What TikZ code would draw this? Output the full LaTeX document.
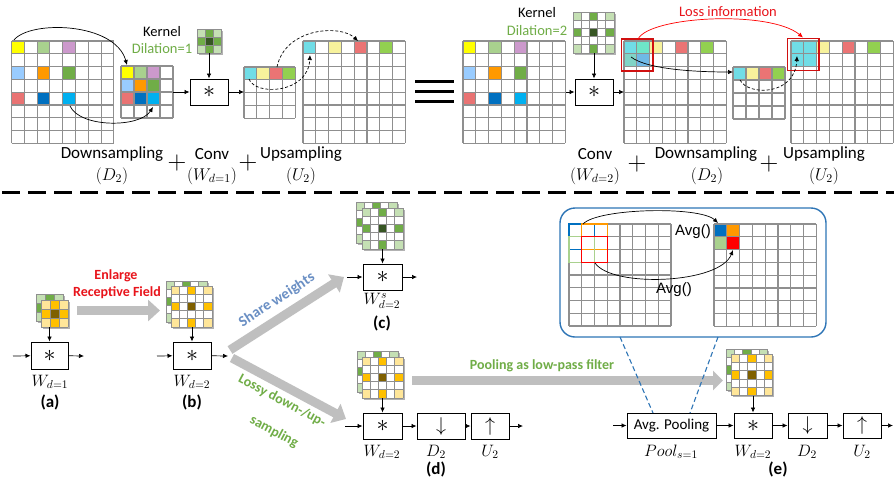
\RequirePackage{fix-cm}
\documentclass[tikz,border=0pt]{standalone}
\usepackage{fontspec}
\setmainfont{Carlito}
\newfontfamily\arialf{Liberation Sans}
\usetikzlibrary{arrows.meta}
\definecolor{cyel}{HTML}{FFFF00}
\definecolor{clg}{HTML}{A9D18E}
\definecolor{clil}{HTML}{CC99CC}
\definecolor{clb}{HTML}{99CCFF}
\definecolor{cor}{HTML}{FF9900}
\definecolor{cgr}{HTML}{70AD47}
\definecolor{csal}{HTML}{E97373}
\definecolor{cdb}{HTML}{0070C0}
\definecolor{csky}{HTML}{00B0F0}
\definecolor{ccy}{HTML}{70DDE6}
\definecolor{cly}{HTML}{F7F29C}
\definecolor{csal2}{HTML}{EB7474}
\definecolor{cgr2}{HTML}{92D050}
\definecolor{cmint}{HTML}{6EE6C8}
\definecolor{cteal}{HTML}{80D4C6}
\definecolor{cblu2}{HTML}{6FB9E6}
\definecolor{kgL}{HTML}{C5E0B4}
\definecolor{kgM}{HTML}{70AD47}
\definecolor{kgD}{HTML}{375623}
\definecolor{kyL}{HTML}{FFE699}
\definecolor{kyM}{HTML}{FFC000}
\definecolor{kyD}{HTML}{7F6000}
\definecolor{agray}{HTML}{BFBFBF}
\definecolor{bbox}{HTML}{2E75B6}
\definecolor{tgreen}{HTML}{70AD47}
\definecolor{tblue}{HTML}{6A8FC4}
\definecolor{tred}{HTML}{E8141B}
\definecolor{gline}{HTML}{8F8F8F}
\definecolor{rred}{HTML}{FF0000}
\definecolor{dred}{HTML}{D01010}
\tikzset{
 gl/.style={draw=gline, line width=1.1pt},
 kl/.style={draw=gline, line width=0.7pt},
 con/.style={-{Latex[length=5pt,width=4.5pt]}, line width=0.7pt},
 dcon/.style={-{Latex[length=5pt,width=4.5pt]}, line width=0.7pt, dash pattern=on 3pt off 2pt},
 opbox/.style={draw, line width=1pt, minimum height=26pt, inner sep=0pt, fill=white},
 fat/.style={draw=agray, line width=9pt, -{Triangle[length=12pt,width=21pt]}},
 big/.style={font=\fontsize{17}{20}\selectfont, inner sep=0pt},
 mlab/.style={font=\fontsize{17}{20}\selectfont, inner sep=0pt},
 blab/.style={font=\fontsize{16.5}{19}\selectfont, inner sep=0pt},
 plus/.style={font=\fontsize{26}{26}\selectfont, inner sep=0pt},
 sml/.style={font=\fontsize{14.5}{17}\selectfont, inner sep=0pt},
 sub/.style={font=\fontsize{17}{20}\selectfont\bfseries, inner sep=0pt},
 avg/.style={font=\arialf\fontsize{15}{18}\selectfont, inner sep=0pt},
}
\newcommand\bigast{\fontsize{24}{24}\selectfont$\ast$}
\newcommand\bigdown{\fontsize{20}{20}\selectfont$\downarrow$}
\newcommand\bigup{\fontsize{20}{20}\selectfont$\uparrow$}
\newcommand\mygrid[5]{%
 \foreach \ri/\ci/\col in {#5} {\fill[\col] ({#1+\ci*#4},{#2+\ri*#4}) rectangle ++(#4,#4);}
 \foreach \i in {0,...,#3} {%
   \draw[gl] ({#1+\i*#4},{#2}) -- ({#1+\i*#4},{#2+#3*#4});
   \draw[gl] ({#1},{#2+\i*#4}) -- ({#1+#3*#4},{#2+\i*#4});}
}
\newcommand\kthree[6]{%
 \fill[black!30] ({#1+1.8},{#2+1.8}) rectangle ++({3*#3},{3*#3});
 \foreach \ri/\ci/\col in {0/0/#4,0/1/#5,0/2/#4,1/0/#5,1/1/#6,1/2/#5,2/0/#4,2/1/#5,2/2/#4}
   {\fill[\col] ({#1+\ci*#3},{#2+\ri*#3}) rectangle ++(#3,#3);}
 \foreach \i in {0,...,3} {%
   \draw[kl] ({#1+\i*#3},{#2}) -- ++(0,{3*#3});
   \draw[kl] ({#1},{#2+\i*#3}) -- ++({3*#3},0);}
}
\newcommand\kfive[6]{%
 \fill[black!30] ({#1+1.8},{#2+1.8}) rectangle ++({5*#3},{5*#3});
 \fill[white] ({#1},{#2}) rectangle ++({5*#3},{5*#3});
 \foreach \ri/\ci/\col in {0/0/#4,0/2/#5,0/4/#4,2/0/#5,2/2/#6,2/4/#5,4/0/#4,4/2/#5,4/4/#4}
   {\fill[\col] ({#1+\ci*#3},{#2+\ri*#3}) rectangle ++(#3,#3);}
 \foreach \i in {0,...,5} {%
   \draw[kl] ({#1+\i*#3},{#2}) -- ++(0,{5*#3});
   \draw[kl] ({#1},{#2+\i*#3}) -- ++({5*#3},0);}
}
\begin{document}
\begin{tikzpicture}[x=1pt,y=-1pt]
\useasboundingbox[fill=white] (0,0) rectangle (894,483);

% ================= top left =================
\mygrid{11.5}{41}{8}{12.8}{0/0/cyel,0/2/clg,0/4/clil,2/0/clb,2/2/cor,2/4/cgr,4/0/csal,4/2/cdb,4/4/csky}
\mygrid{121}{66}{4}{13}{0/0/cyel,0/1/clg,0/2/clil,1/0/clb,1/1/cor,1/2/cgr,2/0/csal,2/1/cdb,2/2/csky}
\kthree{197}{29}{8}{kgL}{kgM}{kgD}
\mygrid{244}{67}{4}{12.8}{0/0/ccy,0/1/cly,0/2/csal2,0/3/cgr2}
\mygrid{303}{41}{8}{12.8}{0/0/ccy,0/2/cly,0/4/csal2,0/6/cgr2}

\node[sml] (kt1) at (162,32) {Kernel};
\node[sml,text=tgreen] (dl1) at (162,49) {Dilation=1};
\node[opbox,minimum width=38pt] (cv1) at (209,92) {\bigast};

\coordinate (p1a) at (14,40);
\coordinate (p1b) at (127,65);
\draw[con] (p1a) .. controls (30,20) and (115,22) .. (p1b);
\coordinate (p2a) at (70,106);
\coordinate (p2b) at (153,107);
\draw[con] (p2a) .. controls (80,128) and (140,128) .. (p2b);
\coordinate (k1b) at (209,53);
\draw[con] (k1b) -- (cv1);
\coordinate (g2r) at (173,92);
\draw[con] (g2r) -- (cv1);
\coordinate (g3l) at (244,92);
\draw[con] (cv1) -- (g3l);
\coordinate (p3a) at (277,67);
\coordinate (p3b) at (358,41);
\draw[dcon] (p3a) .. controls (285,28) and (340,24) .. (p3b);
\coordinate (p4a) at (249,79);
\coordinate (p4b) at (310,55);
\draw[dcon] (p4a) .. controls (255,96) and (308,94) .. (p4b);

\draw[line width=3pt] (415,81) -- (454,81);
\draw[line width=3pt] (415,91) -- (454,91);
\draw[line width=3pt] (415,101.5) -- (454,101.5);

\node[big] (tl1) at (112,154) {Downsampling};
\node[mlab] (tl2) at (112,176) {$(D_2)$};
\node[plus] (pl1) at (177,163) {$+$};
\node[big] (tl3) at (212,154) {Conv};
\node[mlab] (tl4) at (212,176) {$(W_{d=1})$};
\node[plus] (pl2) at (248,163) {$+$};
\node[big] (tl5) at (301,154) {Upsampling};
\node[mlab] (tl6) at (301,176) {$(U_2)$};

% ================= top right =================
\mygrid{463}{41}{8}{12.8}{0/0/cyel,0/2/clg,0/4/clil,2/0/clb,2/2/cor,2/4/cgr,4/0/csal,4/2/cdb,4/4/csky}
\kfive{573}{12}{8.2}{kgL}{kgM}{kgD}
\mygrid{624}{41}{8}{12.8}{0/0/ccy,0/1/cmint,1/0/cteal,1/1/cblu2,0/2/cly,0/4/csal2,0/6/cgr2}
\mygrid{733}{67}{4}{13}{0/0/ccy,0/1/cly,0/2/csal2,0/3/cgr2}
\mygrid{791}{41}{8}{12.8}{0/0/ccy,0/1/ccy,1/0/ccy,1/1/ccy,0/2/cly,0/4/csal2,0/6/cgr2}
\draw[draw=dred, line width=1.5pt] (621.5,39) rectangle (653,71);
\draw[draw=dred, line width=1.5pt] (787.5,38.5) rectangle (819,70.5);

\node[sml] (kt2) at (537,13) {Kernel};
\node[sml,text=tgreen] (dl2) at (537,31) {Dilation=2};
\node[sml,text=tred] (loss) at (728,12) {Loss information};
\node[opbox,minimum width=38pt] (cv2) at (594,92) {\bigast};

\coordinate (k2b) at (594,53);
\draw[con] (k2b) -- (cv2);
\coordinate (gAr) at (566,92);
\draw[con] (gAr) -- (cv2);
\coordinate (gBl) at (624,92);
\draw[con] (cv2) -- (gBl);
\coordinate (r1a) at (638,39);
\coordinate (r1b) at (803,37.5);
\draw[con,draw=rred] (r1a) .. controls (650,16) and (770,10) .. (r1b);
\coordinate (q1a) at (631,57);
\coordinate (q1b) at (733,72);
\draw[con] (q1a) .. controls (648,70) and (700,72) .. (q1b);
\coordinate (q2a) at (740,80);
\coordinate (q2b) at (797,56);
\draw[dcon] (q2a) .. controls (748,96) and (795,96) .. (q2b);

\node[big] (tr1) at (595,154) {Conv};
\node[mlab] (tr2) at (595,176) {$(W_{d=2})$};
\node[plus] (pl3) at (637,164) {$+$};
\node[big] (tr3) at (706,154) {Downsampling};
\node[mlab] (tr4) at (707,176) {$(D_2)$};
\node[plus] (pl4) at (769,164) {$+$};
\node[big] (tr5) at (824,154) {Upsampling};
\node[mlab] (tr6) at (824,176) {$(U_2)$};

% separator
\draw[line width=3pt, dash pattern=on 18pt off 8pt] (2,192) -- (894,192);

% ================= (a) =================
\kthree{36}{294}{9}{kgL}{kgM}{kgD}
\kthree{41}{300}{9}{kyL}{kyM}{kyD}
\node[opbox,minimum width=37pt,minimum height=27pt] (ba) at (49.5,355.5) {\bigast};
\coordinate (akb) at (49.5,327);
\draw[con] (akb) -- (ba);
\coordinate (ain) at (13,356);
\draw[con] (ain) -- (ba);
\coordinate (aout) at (84,356);
\draw[con] (ba) -- (aout);
\node[blab] (wa) at (50,382) {$W_{d=1}$};
\node[sub] (la) at (50,402) {(a)};

\coordinate (f1s) at (77,310.5);
\coordinate (f1e) at (160,310.5);
\draw[fat] (f1s) -- (f1e);
\node[font=\fontsize{14}{16}\selectfont\bfseries, text=tred, inner sep=0pt] (en1) at (116,276) {Enlarge};
\node[font=\fontsize{14}{16}\selectfont\bfseries, text=tred, inner sep=0pt] (en2) at (117,293) {Receptive Field};

% ================= (b) =================
\kfive{166}{281}{8.2}{kgL}{kgM}{kgD}
\kfive{171}{286}{8.2}{kyL}{kyM}{kyD}
\node[opbox,minimum width=38pt,minimum height=27pt] (bb) at (192,355.5) {\bigast};
\coordinate (bkb) at (192,327);
\draw[con] (bkb) -- (bb);
\coordinate (bin) at (157,356);
\draw[con] (bin) -- (bb);
\coordinate (bout) at (228,356);
\draw[con] (bb) -- (bout);
\node[blab] (wb) at (192,382) {$W_{d=2}$};
\node[sub] (lb) at (192,402) {(b)};

\coordinate (f2s) at (230,350);
\coordinate (f2e) at (344,277);
\draw[fat] (f2s) -- (f2e);
\coordinate (f3s) at (232,358);
\coordinate (f3e) at (346,419);
\draw[fat] (f3s) -- (f3e);
\node[font=\fontsize{15}{17}\selectfont\bfseries, text=tblue, inner sep=0pt, rotate=33] (sw) at (277,300) {Share weights};
\node[font=\fontsize{14}{16}\selectfont\bfseries, text=tgreen, inner sep=0pt, rotate=-28] (ls1) at (282,401) {Lossy down-/up-};
\node[font=\fontsize{14}{16}\selectfont\bfseries, text=tgreen, inner sep=0pt, rotate=-28] (ls2) at (274,432) {sampling};

% ================= (c) =================
\kfive{356}{202}{8.2}{kgL}{kgM}{kgD}
\kfive{362}{208}{8.2}{kgL}{kgM}{kgD}
\node[opbox,minimum width=39pt] (bc) at (382.5,277) {\bigast};
\coordinate (ckb) at (382.5,249);
\draw[con] (ckb) -- (bc);
\coordinate (cin) at (347,277);
\draw[con] (cin) -- (bc);
\coordinate (cout) at (417,277);
\draw[con] (bc) -- (cout);
\node[blab] (wc) at (382,301) {$W^s_{d=2}$};
\node[sub] (lc) at (382,323) {(c)};

% ================= (d) =================
\kfive{357}{351}{8.2}{kgL}{kgM}{kgD}
\kfive{362}{357}{8.2}{kyL}{kyM}{kyD}
\node[opbox,minimum width=39pt] (d1) at (382.5,426) {\bigast};
\node[opbox,minimum width=48pt] (d2) at (441,426) {\bigdown};
\node[opbox,minimum width=38pt] (d3) at (490,426) {\bigup};
\coordinate (dkb) at (382.5,398);
\draw[con] (dkb) -- (d1);
\coordinate (din) at (345,426);
\draw[con] (din) -- (d1);
\draw[con] (d1) -- (d2);
\draw[con] (d2) -- (d3);
\coordinate (dout) at (523,426);
\draw[con] (d3) -- (dout);
\node[blab] (wd) at (382,452) {$W_{d=2}$};
\node[blab] (dd) at (436,452) {$D_2$};
\node[blab] (ud) at (490,452) {$U_2$};
\node[sub] (ld) at (436,469) {(d)};

\coordinate (f4s) at (412,380.5);
\coordinate (f4e) at (723,380.5);
\draw[fat, line width=8.5pt, -{Triangle[length=10pt,width=19pt]}] (f4s) -- (f4e);
\node[font=\fontsize{14}{16}\selectfont\bfseries, text=tgreen, inner sep=0pt] (plp) at (542,366) {Pooling as low-pass filter};

% ================= (e) =================
\draw[draw=bbox, line width=1.4pt, rounded corners=15pt] (560,208) rectangle (826,337);
\mygrid{569}{224}{8}{12.75}{0/0/white}
\mygrid{714}{224}{8}{12.8}{0/0/cdb,0/1/cor,1/0/clg,1/1/rred}
\draw[draw=cdb, line width=1.4pt] (569,224) rectangle (594.5,249.5);
\draw[draw=cor, line width=1.4pt] (581.75,224) rectangle (607.25,249.5);
\draw[draw=clg, line width=1.4pt] (569,236.75) rectangle (594.5,262.25);
\draw[draw=rred, line width=1.4pt] (581.75,236.75) rectangle (607.25,262.25);
\coordinate (v1a) at (583,224);
\coordinate (v1b) at (718,223);
\draw[con] (v1a) .. controls (598,208) and (700,206) .. (v1b);
\coordinate (v2a) at (595,263);
\coordinate (v2b) at (733,250);
\draw[con] (v2a) .. controls (612,288) and (720,284) .. (v2b);
\node[avg] (av1) at (693,232) {Avg()};
\node[avg] (av2) at (674,290) {Avg()};

\node[opbox,minimum width=89pt,minimum height=25pt,font=\fontsize{15}{18}\selectfont] (ep) at (671.5,425.5) {Avg. Pooling};
\node[opbox,minimum width=38pt,minimum height=25pt] (e1) at (753,425.5) {\bigast};
\node[opbox,minimum width=39pt,minimum height=25pt] (e2) at (807.5,425.5) {\bigdown};
\node[opbox,minimum width=38pt,minimum height=25pt] (e3) at (862,425.5) {\bigup};
\coordinate (ein) at (613,425.5);
\draw[con] (ein) -- (ep);
\draw[con] (ep) -- (e1);
\draw[con] (e1) -- (e2);
\draw[con] (e2) -- (e3);
\coordinate (eout) at (893,425.5);
\draw[con] (e3) -- (eout);
\kfive{726}{349}{8.3}{kgL}{kgM}{kgD}
\kfive{731}{354}{8.3}{kyL}{kyM}{kyD}
\coordinate (ekb) at (753,395.5);
\draw[con] (ekb) -- (e1);

\coordinate (bl1) at (620,337);
\coordinate (bl2) at (653,413);
\coordinate (bl3) at (718,337);
\coordinate (bl4) at (690,413);
\draw[draw=bbox, line width=1.1pt, dash pattern=on 5pt off 3pt] (bl1) -- (bl2);
\draw[draw=bbox, line width=1.1pt, dash pattern=on 5pt off 3pt] (bl3) -- (bl4);

\node[blab] (pe) at (671,452) {$Pool_{s=1}$};
\node[blab] (we) at (753,452) {$W_{d=2}$};
\node[blab] (de) at (807,452) {$D_2$};
\node[blab] (ue) at (862,452) {$U_2$};
\node[sub] (le) at (778,469) {(e)};
\end{tikzpicture}
\end{document}
